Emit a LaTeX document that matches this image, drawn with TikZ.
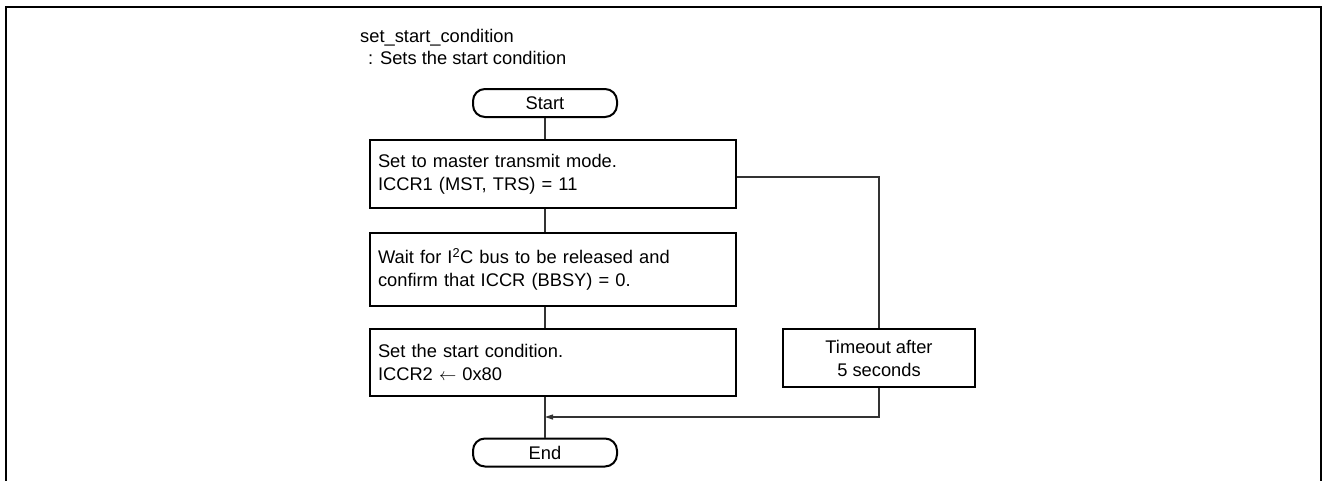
\documentclass[tikz,border=0pt]{standalone}
\usepackage{fontspec}
\setmainfont{Liberation Sans}
\usetikzlibrary{arrows.meta}
\begin{document}
\begin{tikzpicture}[x=1pt,y=-1pt,
  every node/.style={font=\fontsize{18.3}{23}\selectfont},
  procbox/.style={draw,line width=2pt,minimum width=366pt,text width=350pt,align=left,inner xsep=8pt,inner ysep=0pt},
  termbox/.style={draw,line width=2pt,rounded corners=12pt,minimum width=144pt,minimum height=28pt,inner sep=0pt},
  tobox/.style={draw,line width=2pt,minimum width=192pt,minimum height=58pt,align=center,inner sep=0pt},
  conn/.style={line width=1.2pt,draw=black!80},
  txt/.style={anchor=base west,inner sep=0pt}]
\useasboundingbox (0,0) rectangle (1322,480);
\draw[line width=2.2pt] (6,495) -- (6,7) -- (1321,7) -- (1321,495);
\node[txt] (t1) at (360,42) {set\_start\_condition};
\node[txt] (t2) at (368,64) {: Sets the start condition};
\node[termbox] (start) at (545,103) {Start};
\node[procbox,minimum height=68pt] (b1) at (553,174) {Set to master transmit mode.\\ICCR1 (MST, TRS) = 11};
\node[procbox,minimum height=73pt] (b2) at (553,269.5) {Wait for I\textsuperscript{2}C bus to be released and\\confirm that ICCR (BBSY) = 0.};
\node[procbox,minimum height=67pt] (b3) at (553,362.5) {Set the start condition.\\ICCR2 $\leftarrow$ 0x80};
\node[tobox] (to) at (879,358) {Timeout after\\5 seconds};
\node[termbox] (end) at (545,452.5) {End};
\coordinate (j) at (545,417);
\draw[conn] (start.south) -- (start.south |- b1.north);
\draw[conn] (start.south |- b1.south) -- (start.south |- b2.north);
\draw[conn] (start.south |- b2.south) -- (start.south |- b3.north);
\draw[conn] (start.south |- b3.south) -- (end.north);
\draw[conn] ([yshift=-3pt]b1.east) -| (to.north);
\draw[conn,-{Triangle[length=8pt,width=5pt]}] (to.south) |- (j);
\end{tikzpicture}
\end{document}
